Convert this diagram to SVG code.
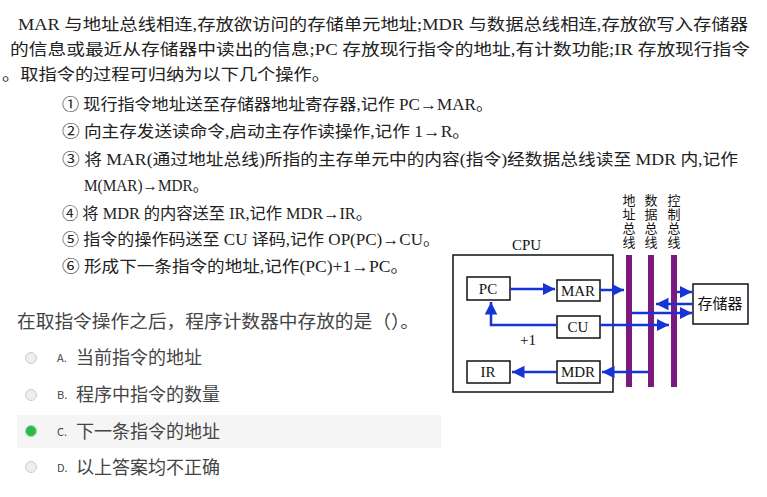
<svg xmlns="http://www.w3.org/2000/svg" width="767" height="497" viewBox="0 0 767 497">
<defs>
<style>
.t{font-family:"Liberation Serif","Noto Sans CJK SC",serif;font-size:16px;fill:#222}
.q{font-family:"Noto Sans CJK SC",sans-serif;fill:#444}
.d{font-family:"Liberation Serif","Noto Sans CJK SC",serif;font-size:15px;fill:#111}
.v{font-family:"Noto Sans CJK SC",serif;font-size:13px;fill:#111;writing-mode:vertical-rl;letter-spacing:1px}
.box{fill:#fff;stroke:#111;stroke-width:1.5}
.bus{fill:#7a1a80}
.ar{stroke:#1633d6;stroke-width:2.5;fill:none;marker-end:url(#ah)}
</style>
<marker id="ah" markerWidth="6" markerHeight="6" refX="5" refY="3" orient="auto" markerUnits="strokeWidth"><path d="M0,0.5 L5,3 L0,5.5Z" fill="#1633d6"/></marker>
</defs>
<rect width="767" height="497" fill="#fff"/>
<g id="text">
<text class="t" x="18" y="30" textLength="730" lengthAdjust="spacingAndGlyphs">MAR 与地址总线相连,存放欲访问的存储单元地址;MDR 与数据总线相连,存放欲写入存储器</text>
<text class="t" x="10" y="55" textLength="740" lengthAdjust="spacingAndGlyphs">的信息或最近从存储器中读出的信息;PC 存放现行指令的地址,有计数功能;IR 存放现行指令</text>
<text class="t" x="2" y="80" textLength="328" lengthAdjust="spacingAndGlyphs">。取指令的过程可归纳为以下几个操作。</text>
<text class="t" x="62" y="110" textLength="431" lengthAdjust="spacingAndGlyphs">① 现行指令地址送至存储器地址寄存器,记作 PC→MAR。</text>
<text class="t" x="62" y="137" textLength="408" lengthAdjust="spacingAndGlyphs">② 向主存发送读命令,启动主存作读操作,记作 1→R。</text>
<text class="t" x="62" y="165" textLength="676" lengthAdjust="spacingAndGlyphs">③ 将 MAR(通过地址总线)所指的主存单元中的内容(指令)经数据总线读至 MDR 内,记作</text>
<text class="t" x="84" y="191" textLength="124" lengthAdjust="spacingAndGlyphs">M(MAR)→MDR。</text>
<text class="t" x="62" y="219" textLength="310" lengthAdjust="spacingAndGlyphs">④ 将 MDR 的内容送至 IR,记作 MDR→IR。</text>
<text class="t" x="62" y="245" textLength="378" lengthAdjust="spacingAndGlyphs">⑤ 指令的操作码送至 CU 译码,记作 OP(PC)→CU。</text>
<text class="t" x="62" y="272" textLength="346" lengthAdjust="spacingAndGlyphs">⑥ 形成下一条指令的地址,记作(PC)+1→PC。</text>
<text class="q" x="17" y="328" font-size="18" textLength="402" lengthAdjust="spacingAndGlyphs">在取指令操作之后，程序计数器中存放的是（）。</text>
<rect x="17" y="415" width="424" height="33" fill="#f5f5f5"/>
<g font-family="Liberation Sans,sans-serif">
<circle cx="31" cy="358" r="5.5" fill="#eee" stroke="#ccc"/>
<circle cx="31" cy="395" r="5.5" fill="#eee" stroke="#ccc"/>
<circle cx="31" cy="431" r="5.5" fill="#2db84d" stroke="#9ddcaa"/>
<circle cx="31" cy="467" r="5.5" fill="#eee" stroke="#ccc"/>
<text class="q" x="57" y="362" font-size="11">A.</text>
<text class="q" x="57" y="399" font-size="11">B.</text>
<text class="q" x="57" y="436" font-size="11">C.</text>
<text class="q" x="57" y="472" font-size="11">D.</text>
</g>
<text class="q" x="76" y="364" font-size="18">当前指令的地址</text>
<text class="q" x="76" y="401" font-size="18">程序中指令的数量</text>
<text class="q" x="76" y="438" font-size="18">下一条指令的地址</text>
<text class="q" x="76" y="474" font-size="18">以上答案均不正确</text>
</g>
<g id="cpu"><rect class="box" x="453" y="255" width="160" height="137"/><text class="d" x="512" y="250">CPU</text></g>
<g id="pc"><rect class="box" x="467" y="277" width="43" height="23"/><text class="d" x="488" y="294" text-anchor="middle">PC</text></g>
<g id="mar"><rect class="box" x="557" y="280" width="43" height="21"/><text class="d" x="578" y="296" text-anchor="middle">MAR</text></g>
<g id="cu"><rect class="box" x="557" y="316" width="43" height="22"/><text class="d" x="578" y="332" text-anchor="middle">CU</text></g>
<g id="ir"><rect class="box" x="467" y="361" width="43" height="22"/><text class="d" x="488" y="377" text-anchor="middle">IR</text></g>
<g id="mdr"><rect class="box" x="557" y="361" width="43" height="22"/><text class="d" x="578" y="377" text-anchor="middle">MDR</text></g>
<g id="mem"><rect class="box" x="693" y="284" width="55" height="40"/><text class="d" x="720" y="309" text-anchor="middle">存储器</text></g>
<g id="buses">
<rect class="bus" x="626" y="255" width="6" height="132"/>
<rect class="bus" x="648" y="255" width="6" height="132"/>
<rect class="bus" x="671" y="255" width="6" height="132"/>
<text class="v" x="629" y="194">地址总线</text>
<text class="v" x="651" y="194">数据总线</text>
<text class="v" x="674" y="194">控制总线</text>
</g>
<g id="connectors">
<path class="ar" d="M510,289 H555" stroke-width="3.5"/>
<path class="ar" d="M600,290 H624"/>
<path class="ar" d="M677,292 H692"/>
<path class="ar" d="M693,304 H656"/>
<path class="ar" d="M632,313 H692"/>
<path class="ar" d="M600,325 H669"/>
<path class="ar" d="M557,325 H491 V302"/>
<path class="ar" d="M648,372 H602"/>
<path class="ar" d="M557,372 H512"/>
<text class="d" x="520" y="345" font-size="14">+1</text>
</g>
</svg>
